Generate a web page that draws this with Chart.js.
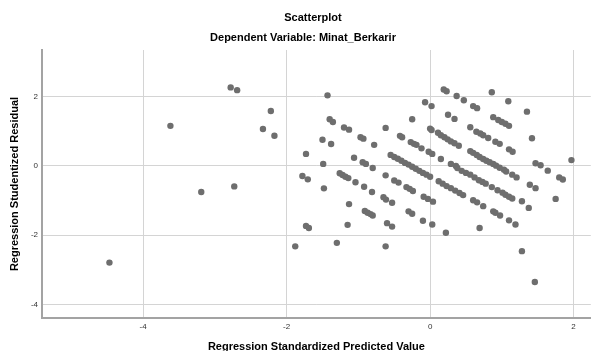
<!DOCTYPE html>
<html>
<head>
<meta charset="utf-8">
<title>Scatterplot</title>
<script src="https://cdn.jsdelivr.net/npm/chart.js@4/dist/chart.umd.min.js"></script>
<style>
  html, body { margin: 0; padding: 0; background: #fff; overflow: hidden; }
  #chart { display: block; }
</style>
</head>
<body>
<canvas id="chart" width="594" height="351"></canvas>
<script>
// Regression Standardized Predicted Value (x) and Studentized Residual (y)
const predictedValues = [
  -4.47, -3.62, -3.19, -2.78, -2.69, -2.73, -2.33, -2.22, -2.17,
  -1.43, -1.40, -1.355, -1.20, -1.13, -0.97, -0.93, -1.50, -1.38, -1.73, -1.49, -1.06, -0.94, -0.895, -0.80,
  -1.78, -1.705, -1.48, -1.26, -1.22, -1.18, -1.14, -1.04, -0.92, -1.13, -0.91, -0.87, -0.83, -0.80, -1.73, -1.69, -1.15, -1.88, -1.30,
  0.19, 0.23, 0.37, 0.47, 0.60, 0.655, -0.07, 0.02, -0.25, 0.25, 0.34, -0.62, 0.0, 0.02, 0.56, 0.645,
  0.11, 0.15, 0.20, 0.245, 0.29, 0.34, 0.40, -0.42, -0.39, -0.27, -0.225, -0.19, -0.12, -0.02, 0.03, 0.15, 0.29, 0.36, 0.56, 0.60, -0.78,
  -0.55, -0.50, -0.45, -0.40, -0.35, -0.30, -0.25, -0.20, -0.15, -0.10, -0.05, 0.00,
  0.38, 0.44, 0.50, 0.56, 0.62, -0.62, -0.50, -0.44, -0.33, -0.285, -0.24, -0.81, -0.65, -0.615, -0.53, -0.09, -0.03, 0.04,
  0.12, 0.175, 0.23, 0.29, 0.35, 0.41, 0.46, 0.60, -0.30, -0.25, -0.60, -0.53, -0.10, 0.03, 0.22, -0.62,
  0.86, 1.09, 1.35, 0.88, 0.95, 1.00, 1.05, 1.10, 0.70, 0.74, 0.81, 0.91, 0.97, 1.10, 1.15, 1.42,
  0.65, 0.69, 0.74, 0.785, 0.83, 0.88, 0.92, 1.47, 1.54, 1.97,
  0.97, 1.03, 1.06, 1.145, 1.205, 1.64, 1.80, 1.85,
  0.68, 0.73, 0.775, 0.86, 0.94, 1.01, 1.05, 1.10, 1.145, 1.39, 1.47, 1.75,
  0.655, 0.74, 0.88, 0.91, 0.975, 1.10, 1.19, 1.28, 1.375, 0.69, 1.28, 1.46
];
const residuals = [
  -2.79, 1.16, -0.75, 2.27, 2.19, -0.59, 1.07, 1.59, 0.875,
  2.04, 1.35, 1.27, 1.11, 1.05, 0.83, 0.79, 0.76, 0.635, 0.35, 0.06, 0.24, 0.11, 0.06, -0.06,
  -0.29, -0.385, -0.645, -0.21, -0.26, -0.31, -0.35, -0.47, -0.60, -1.10, -1.30, -1.35, -1.39, -1.43, -1.73, -1.79, -1.70, -2.32, -2.22,
  2.21, 2.16, 2.02, 1.90, 1.73, 1.67, 1.84, 1.73, 1.35, 1.48, 1.36, 1.10, 1.08, 1.04, 1.12, 0.99,
  0.96, 0.89, 0.83, 0.77, 0.71, 0.655, 0.585, 0.87, 0.83, 0.69, 0.64, 0.61, 0.51, 0.41, 0.35, 0.20, 0.06, 0.0, 0.43, 0.38, 0.61,
  0.32, 0.26, 0.21, 0.15, 0.09, 0.04, -0.02, -0.08, -0.14, -0.20, -0.25, -0.31,
  -0.06, -0.14, -0.20, -0.25, -0.33, -0.27, -0.42, -0.48, -0.61, -0.66, -0.72, -0.75, -0.90, -0.97, -1.06, -0.89, -0.95, -1.03,
  -0.44, -0.51, -0.58, -0.64, -0.71, -0.78, -0.84, -0.99, -1.31, -1.38, -1.65, -1.75, -1.58, -1.69, -1.93, -2.32,
  2.13, 1.87, 1.57, 1.41, 1.33, 1.27, 1.22, 1.16, 0.94, 0.89, 0.81, 0.70, 0.64, 0.48, 0.41, 0.80,
  0.32, 0.26, 0.20, 0.15, 0.11, 0.06, 0.01, 0.08, 0.02, 0.17,
  -0.05, -0.11, -0.16, -0.25, -0.33, -0.135, -0.33, -0.39,
  -0.41, -0.46, -0.51, -0.61, -0.70, -0.77, -0.83, -0.89, -0.94, -0.54, -0.64, -0.95,
  -1.05, -1.16, -1.31, -1.35, -1.43, -1.57, -1.69, -1.02, -1.21, -1.79, -2.46, -3.35
];
const xTicks = [-4, -2, 0, 2];
const yTicks = [-4, -2, 0, 2];

const titleText = "Scatterplot";
const subtitleText = "Dependent Variable: Minat_Berkarir";

const points = predictedValues.map((x, i) => ({ x: x, y: residuals[i] }));

const fontFamily = "'Liberation Sans', Arial, sans-serif";
const gridColor = "#d4d4d4";
const axisColor = "#a3a3a3";

// SPSS puts the headings a little right of the canvas centre; nudge the title boxes
const nudgeTitles = {
  id: "nudgeTitles",
  afterLayout(chart) {
    chart.boxes.forEach(box => {
      const text = box.options && box.options.text;
      if (text === titleText) { box.left += 16; box.right += 16; }
      if (text === subtitleText) { box.left += 6; box.right += 6; }
    });
  }
};

new Chart(document.getElementById("chart"), {
  type: "scatter",
  data: {
    datasets: [{
      data: points,
      backgroundColor: "#6e6e6e",
      borderColor: "#6e6e6e",
      borderWidth: 0,
      pointRadius: 3.2,
      pointHoverRadius: 3.2
    }]
  },
  plugins: [nudgeTitles],
  options: {
    responsive: false,
    animation: false,
    devicePixelRatio: 1,
    layout: { padding: 0 },
    plugins: {
      legend: { display: false },
      tooltip: { enabled: false },
      title: {
        display: true,
        text: titleText,
        color: "#000",
        font: { family: fontFamily, size: 11, weight: "bold" },
        padding: { top: 11.7, bottom: 0 }
      },
      subtitle: {
        display: true,
        text: subtitleText,
        color: "#000",
        font: { family: fontFamily, size: 11, weight: "bold" },
        padding: { top: 6.8, bottom: 5.1 }
      }
    },
    scales: {
      x: {
        type: "linear",
        min: -5.41,
        max: 2.24,
        afterBuildTicks: (scale) => { scale.ticks = xTicks.map(v => ({ value: v })); },
        afterFit: (scale) => { scale.height = 33; },
        grid: { color: gridColor, lineWidth: 1, drawTicks: false },
        border: { display: true, color: axisColor, width: 2 },
        ticks: {
          color: "#333",
          padding: 4,
          font: { family: fontFamily, size: 8 },
          callback: (v) => v
        },
        title: {
          display: true,
          text: "Regression Standardized Predicted Value",
          color: "#000",
          font: { family: fontFamily, size: 11, weight: "bold" },
          padding: { top: 0, bottom: -2.6 }
        }
      },
      y: {
        type: "linear",
        min: -4.39,
        max: 3.35,
        afterBuildTicks: (scale) => { scale.ticks = yTicks.map(v => ({ value: v })); },
        afterFit: (scale) => { scale.width = 42; },
        grid: { color: gridColor, lineWidth: 1, drawTicks: false },
        border: { display: true, color: axisColor, width: 2 },
        ticks: {
          color: "#333",
          padding: 4,
          font: { family: fontFamily, size: 8 },
          callback: (v) => v
        },
        title: {
          display: true,
          text: "Regression Studentized Residual",
          color: "#000",
          font: { family: fontFamily, size: 11, weight: "bold" },
          padding: { top: 8, bottom: 0 }
        }
      }
    }
  }
});
</script>
</body>
</html>
